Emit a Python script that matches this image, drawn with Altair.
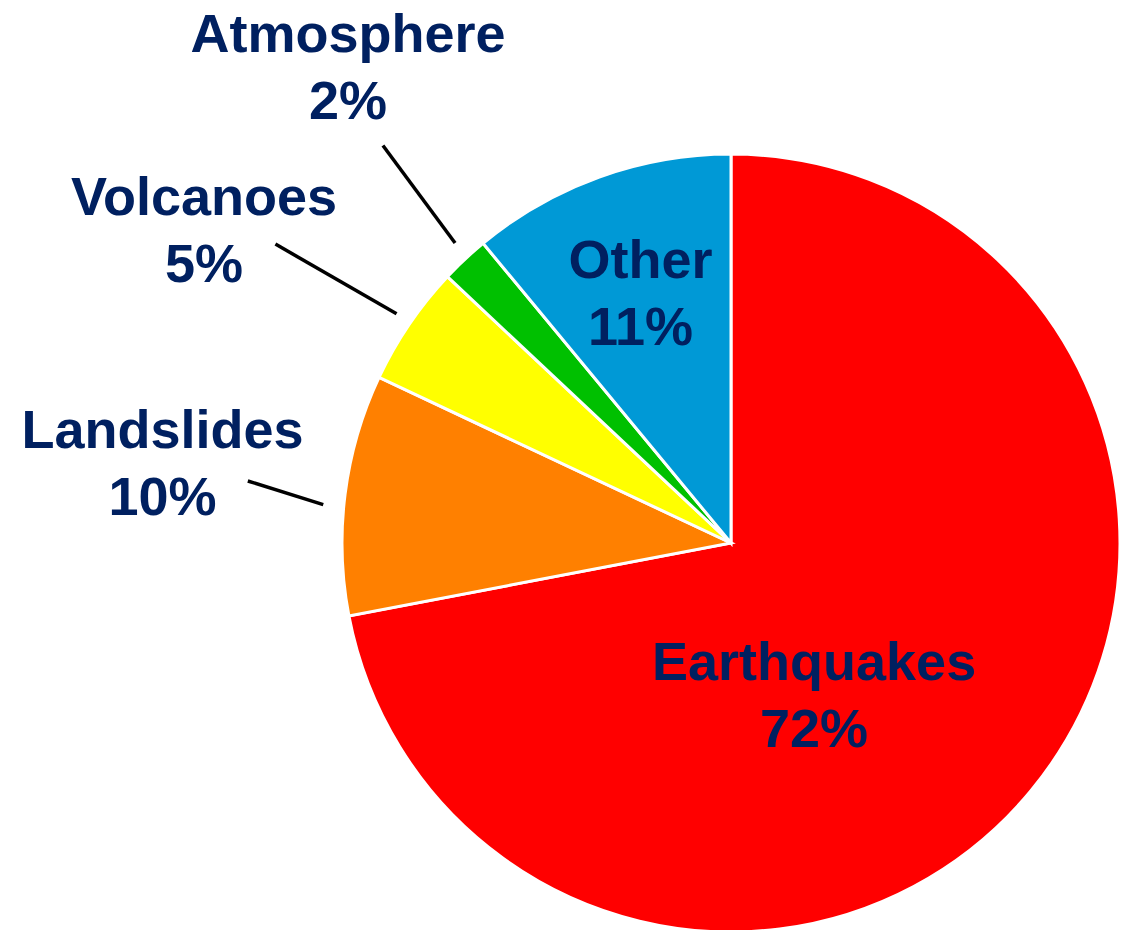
import altair as alt
import pandas as pd

# Sources of the total, clockwise from twelve o'clock
categories = ["Earthquakes", "Landslides", "Volcanoes", "Atmosphere", "Other"]
shares = [72, 10, 5, 2, 11]
colors = ["#FF0000", "#FF8000", "#FFFF00", "#00C000", "#0099D6"]

df = pd.DataFrame({
    "category": categories,
    "share": shares,
    "order": list(range(len(categories))),
})

# Pie geometry (pixels)
CX, CY, R = 731, 543, 389
TEXT_COLOR = "#002060"
FONT = "Liberation Sans"
FONT_SIZE = 54
LINE_HEIGHT = 67

# Label placement: radius along the slice's mid angle plus a nudge
label_layout = {
    "Earthquakes": dict(radius=200, dx=-71, dy=-6),
    "Landslides": dict(radius=574, dx=1, dy=-39),
    "Volcanoes": dict(radius=613, dx=-20, dy=1),
    "Atmosphere": dict(radius=612, dx=36, dy=-61),
    "Other": dict(radius=267, dx=0, dy=-30),
}

# Leader lines: (radius, x nudge, y nudge) for the inner and outer ends
leader_layout = {
    "Landslides": ((410, -1, 13), (487, 0, -1)),
    "Volcanoes": ((408, 3, 0), (546, -4, 8)),
    "Atmosphere": ((406, 2, -4), (526, 12, -14)),
}

base = (
    alt.Chart(df)
    .transform_joinaggregate(total="sum(share)")
    .transform_window(cum="sum(share)", sort=[alt.SortField("order")], frame=[None, 0])
    .transform_calculate(
        a0="2*PI*(datum.cum - datum.share)/datum.total",
        a1="2*PI*datum.cum/datum.total",
        amid="2*PI*(datum.cum - datum.share/2)/datum.total",
        label="datum.category + '\\n' + datum.share + '%'",
    )
)

pie = base.mark_arc(radius=R, stroke="white", strokeWidth=3).encode(
    theta=alt.Theta("a0:Q", scale=None),
    theta2="a1:Q",
    color=alt.Color("category:N", scale=alt.Scale(domain=categories, range=colors), legend=None),
    x=alt.value(CX),
    y=alt.value(CY),
)

layers = [pie]

for cat, ((r1, ox1, oy1), (r2, ox2, oy2)) in leader_layout.items():
    rule = (
        base.transform_filter(alt.datum.category == cat)
        .transform_calculate(
            lx1=f"{CX} + {r1}*sin(datum.amid) + {ox1}",
            ly1=f"{CY} - {r1}*cos(datum.amid) + {oy1}",
            lx2=f"{CX} + {r2}*sin(datum.amid) + {ox2}",
            ly2=f"{CY} - {r2}*cos(datum.amid) + {oy2}",
        )
        .mark_rule(color="black", strokeWidth=3.5)
        .encode(
            x=alt.X("lx1:Q", scale=None, axis=None),
            y=alt.Y("ly1:Q", scale=None, axis=None),
            x2="lx2:Q",
            y2="ly2:Q",
        )
    )
    layers.append(rule)

for cat, lay in label_layout.items():
    text = (
        base.transform_filter(alt.datum.category == cat)
        .mark_text(
            radius=lay["radius"],
            dx=lay["dx"],
            dy=lay["dy"],
            font=FONT,
            fontSize=FONT_SIZE,
            fontWeight="bold",
            color=TEXT_COLOR,
            lineBreak="\n",
            lineHeight=LINE_HEIGHT,
            align="center",
            baseline="middle",
        )
        .encode(
            theta=alt.Theta("amid:Q", scale=None),
            x=alt.value(CX),
            y=alt.value(CY),
            text="label:N",
        )
    )
    layers.append(text)

chart = (
    alt.layer(*layers)
    .properties(width=1124, height=930, autosize=alt.AutoSizeParams(type="none"), padding=0)
    .configure_view(stroke=None)
)

chart.save("out.html", embed_options={"renderer": "svg", "actions": False})
